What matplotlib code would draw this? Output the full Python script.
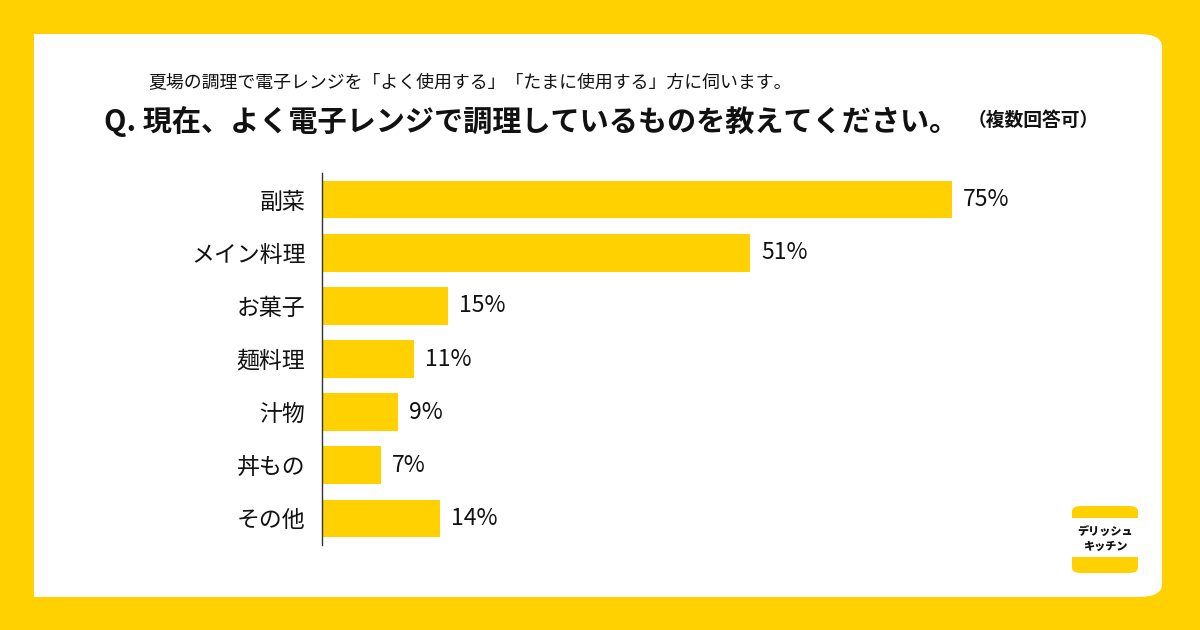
import matplotlib.pyplot as plt
from matplotlib.patches import FancyBboxPatch, Rectangle

plt.rcParams['font.family'] = ['Noto Sans CJK JP', 'DejaVu Sans']

# データ
categories = ["副菜", "メイン料理", "お菓子", "麺料理", "汁物", "丼もの", "その他"]
values = [75, 51, 15, 11, 9, 7, 14]

yellow = "#FFD100"

fig = plt.figure(figsize=(12, 6.3), dpi=100)
fig.patch.set_facecolor(yellow)

# 白いパネル
panel = FancyBboxPatch((34 / 1200, 33 / 630), 1128 / 1200, 563 / 630,
                       boxstyle="round,pad=0,rounding_size=0.02",
                       transform=fig.transFigure, facecolor="white",
                       edgecolor="none", zorder=-2)
fig.patches.append(panel)
fig.patches.append(Rectangle((34 / 1200, 33 / 630), 40 / 1200, 563 / 630,
                             transform=fig.transFigure, facecolor="white",
                             edgecolor="none", zorder=-2))

ax = fig.add_axes([322 / 1200, 85 / 630, 840 / 1200, 372 / 630])
ax.set_facecolor("none")
ypos = range(len(categories))
ax.barh(ypos, values, height=0.71, color=yellow)
for y, v in zip(ypos, values):
    ax.text(v + 1.3, y, f"{v}%", va="center", ha="left",
            fontsize=16.5, color="#111111")

ax.set_xlim(0, 100)
ax.set_ylim(6.5, -0.5)
ax.set_yticks(list(ypos))
ax.set_yticklabels(categories, fontsize=16.5, color="#111111")
ax.tick_params(axis="y", length=0, pad=12)
ax.set_xticks([])
for s in ["top", "right", "bottom"]:
    ax.spines[s].set_visible(False)
ax.spines["left"].set_color("#333333")
ax.spines["left"].set_linewidth(1)

# タイトル
fig.text(148 / 1200, 1 - 83 / 630,
         "夏場の調理で電子レンジを「よく使用する」「たまに使用する」方に伺います。",
         fontsize=12.9, va="center", ha="left", color="#111111")
fig.text(104 / 1200, 1 - 121 / 630,
         "Q. 現在、よく電子レンジで調理しているものを教えてください。",
         fontsize=21, fontweight="bold", va="center", ha="left", color="#111111")
fig.text(968 / 1200, 1 - 120 / 630, "（複数回答可）",
         fontsize=13.5, fontweight="bold", va="center", ha="left", color="#111111")

# ロゴ
fig.patches.append(FancyBboxPatch((1072 / 1200, 1 - 573 / 630), 66 / 1200, 67 / 630,
                                  boxstyle="round,pad=0,rounding_size=0.008",
                                  transform=fig.transFigure, facecolor=yellow,
                                  edgecolor="none", zorder=1))
fig.patches.append(Rectangle((1072 / 1200, 1 - 557 / 630), 66 / 1200, 39 / 630,
                             transform=fig.transFigure, facecolor="white",
                             edgecolor="none", zorder=2))
fig.text(1105 / 1200, 1 - 538 / 630, "デリッシュ\nキッチン", fontsize=8,
         fontweight="heavy", ha="center", va="center", linespacing=1.3,
         color="#111111", zorder=3)

fig.savefig("out.png", dpi=100, facecolor=yellow)
